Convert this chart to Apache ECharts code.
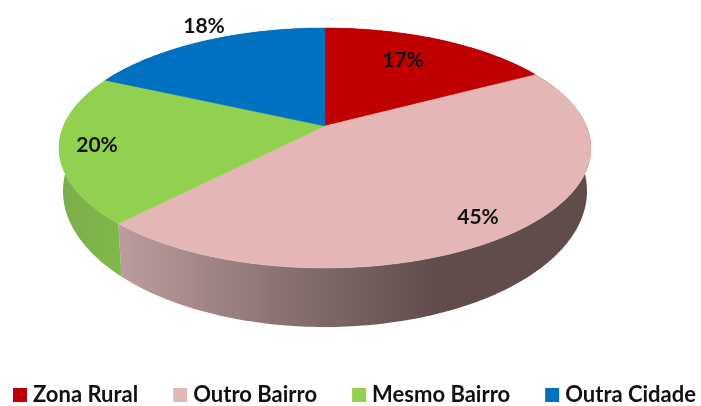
<!DOCTYPE html>
<html>
<head>
<meta charset="utf-8">
<style type="text/css">
    html,body{margin:0;padding:0;background:#fff;}
    #chart{width:701px;height:406px;}
</style>
</head>
<body>
<div id="chart"></div>
<script src="https://cdn.jsdelivr.net/npm/echarts@6/dist/echarts.min.js"></script>
<script>
var categories = ['Zona Rural', 'Outro Bairro', 'Mesmo Bairro', 'Outra Cidade'];
var values = [17, 45, 20, 18];
var colors = ['#c00000', '#e5b6b6', '#92d050', '#0070c0'];

(function() {
    var total = values.reduce(function(a, b) { return a + b; }, 0);
    var fontName = 'Lato, "Open Sans", sans-serif';

    // top of the disc is a tilted circle, so the centre sits above the middle of the ellipse
    var persp = -0.1833;
    function topPoint(frac) {
        var t = frac * Math.PI * 2,
            X = Math.sin(t),
            Y = -Math.cos(t),
            d = 1 + persp * Y;
        return [325 + 261.5 * X / d, (126 + 92.87 * Y) / d];
    }
    // bottom rim is a slightly narrower ellipse lower down
    function bottomPoint(p) {
        return [325 + 262 * (p[0] - 325) / 266, 191 + 136 * (p[1] - 148) / 120];
    }

    var wallFills = [
        '#7d1010',
        {type: 'linear', global: true, x: 117, y: 0, x2: 590, y2: 0, colorStops: [
            {offset: 0, color: '#bd9d9e'},
            {offset: 0.43, color: '#7f6868'},
            {offset: 0.68, color: '#5f4c4b'},
            {offset: 1, color: '#5f4c4b'}
        ]},
        {type: 'linear', global: true, x: 60, y: 0, x2: 122, y2: 0, colorStops: [
            {offset: 0, color: '#7cad4a'},
            {offset: 1, color: '#80b84a'}
        ]},
        '#00528c'
    ];

    var labelSpots = [[403, 60], [478, 217], [97, 145], [204, 26]];

    function renderSlice(idx) {
        return function(params, api) {
            var before = 0;
            for (var i = 0; i < idx; i++) before += values[i];
            var from = before / total,
                to = (before + api.value(0)) / total,
                n = Math.ceil((to - from) * 360),
                rim = [];
            for (var j = 0; j <= n; j++) {
                rim.push(topPoint(from + (to - from) * j / n));
            }
            var under = rim.map(bottomPoint).reverse();
            return {
                type: 'group',
                children: [{
                    type: 'polygon',
                    z2: 1,
                    shape: {points: rim.concat(under)},
                    style: {fill: wallFills[idx]}
                }, {
                    type: 'polygon',
                    z2: 2,
                    shape: {points: [[325, 126]].concat(rim)},
                    style: {fill: colors[idx], stroke: colors[idx], lineWidth: 0.5}
                }, {
                    type: 'text',
                    z2: 3,
                    x: labelSpots[idx][0],
                    y: labelSpots[idx][1],
                    style: {
                        text: api.value(0) + '%',
                        fill: '#111',
                        font: 'bold 21px ' + fontName,
                        align: 'center',
                        verticalAlign: 'middle'
                    }
                }]
            };
        };
    }

    var myChart = echarts.init(document.getElementById('chart'));
    myChart.setOption({
        animation: false,
        backgroundColor: '#fff',
        legend: {
            data: categories,
            left: 13,
            top: 384,
            width: 700,
            icon: 'rect',
            itemWidth: 14,
            itemHeight: 14,
            itemGap: 35,
            padding: 0,
            selectedMode: false,
            textStyle: {
                color: '#111',
                fontFamily: fontName,
                fontWeight: 'bold',
                fontSize: 22,
                padding: [0, 0, 0, 1]
            }
        },
        series: categories.map(function(name, i) {
            return {
                type: 'custom',
                name: name,
                coordinateSystem: 'none',
                silent: true,
                itemStyle: {color: colors[i]},
                data: [[values[i]]],
                renderItem: renderSlice(i)
            };
        })
    });
})()
</script>
</body>
</html>
